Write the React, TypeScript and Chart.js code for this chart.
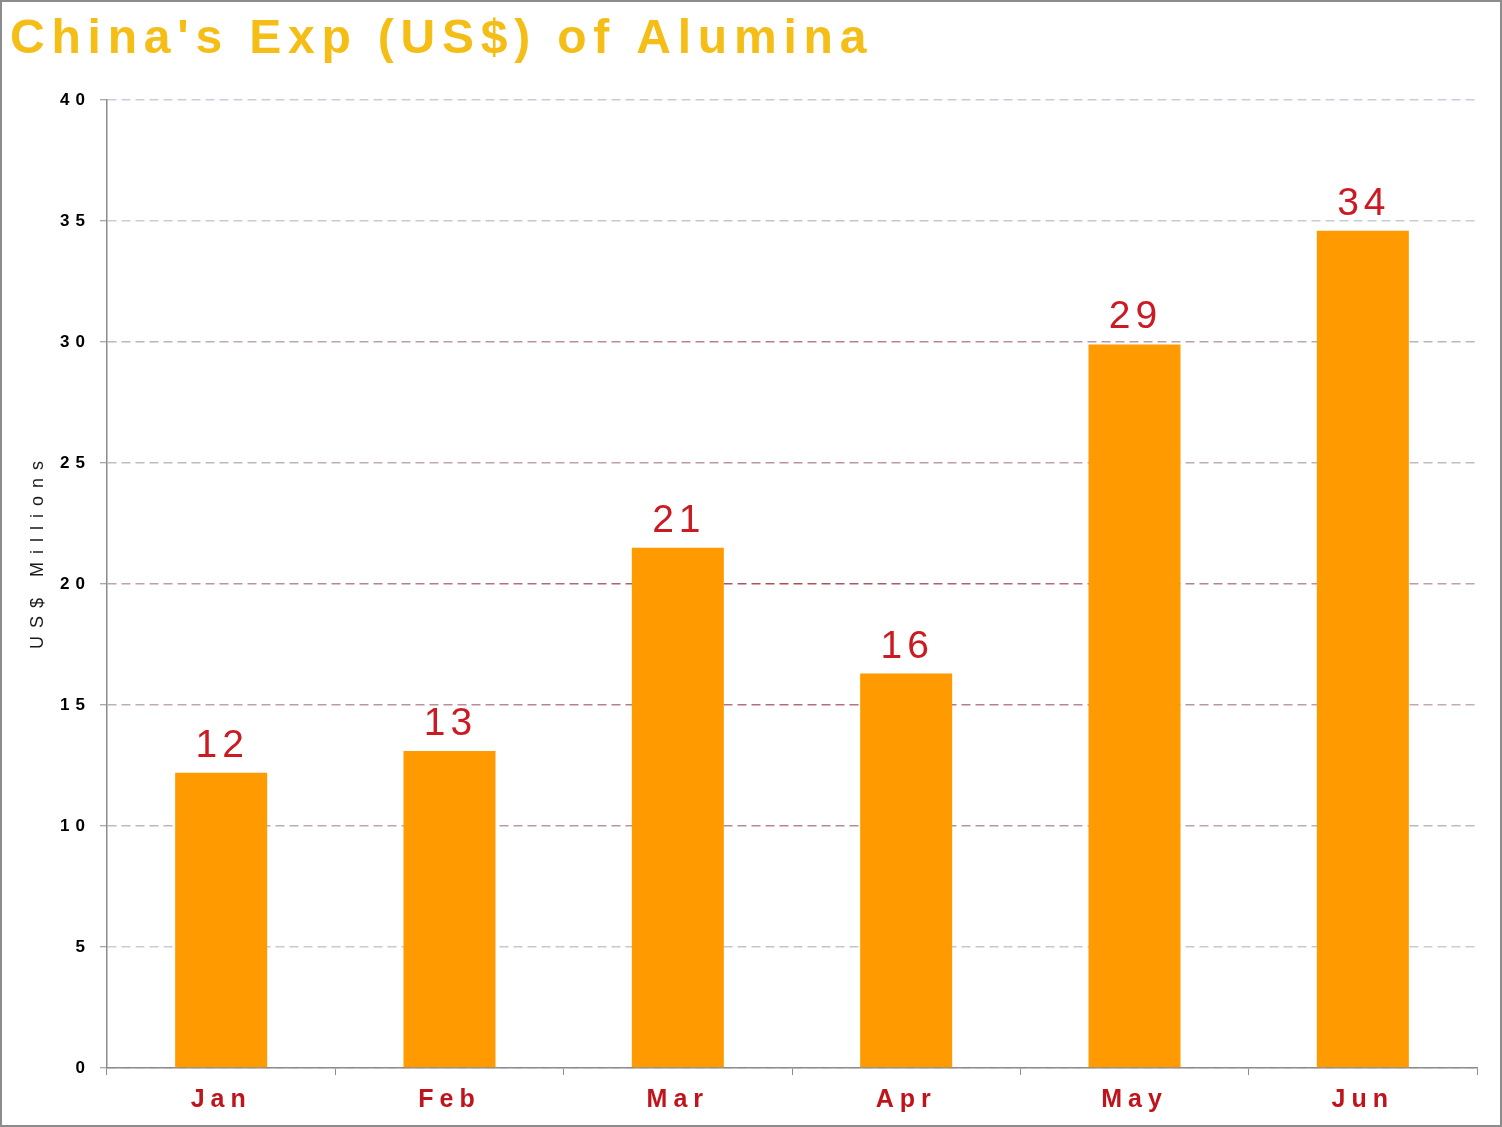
import React, { useEffect, useRef } from 'react';
import { Chart, registerables } from 'chart.js';

Chart.register(...registerables);

// ---- data ----
const chartTitle = "China's Exp (US$) of Alumina";
const yAxisTitle = 'US$ Millions';
const months = ['Jan', 'Feb', 'Mar', 'Apr', 'May', 'Jun'];
const exportValues = [12.2, 13.1, 21.5, 16.3, 29.9, 34.6];
const yMin = 0;
const yMax = 40;
const yStep = 5;

// ---- styles ----
const FONT = "'Liberation Sans', Arial, Helvetica, sans-serif";
const CANVAS_W = 1498;
const CANVAS_H = 1123;
const gridTint: Record<number, number> = { 40: 0.05, 35: 0.1, 30: 0.55, 25: 0.4, 20: 0.85, 15: 0.65, 10: 0.5, 5: 0.1, 0: 0 };

function mix(a: number[], b: number[], t: number) {
  const c = a.map((v, i) => Math.round(v + (b[i] - v) * t));
  return `rgb(${c[0]},${c[1]},${c[2]})`;
}

function patchLabels(scale: any, spacing: string) {
  if (!scale || scale.__lsPatched) return;
  const orig = scale.drawLabels.bind(scale);
  scale.drawLabels = (area: any) => {
    const c = scale.ctx;
    c.save();
    (c as any).letterSpacing = spacing;
    orig(area);
    c.restore();
  };
  scale.__lsPatched = true;
}

const decorPlugin = {
  id: 'decor',
  afterUpdate(chart: any) {
    patchLabels(chart.scales.y, '6px');
    patchLabels(chart.scales.x, '6px');
  },
  afterDatasetsDraw(chart: any) {
    const ctx = chart.ctx;
    const meta = chart.getDatasetMeta(0);
    ctx.save();
    ctx.font = `normal 39px ${FONT}`;
    ctx.fillStyle = '#cc1a22';
    ctx.textAlign = 'center';
    ctx.textBaseline = 'alphabetic';
    ctx.letterSpacing = '5px';
    meta.data.forEach((bar: any, i: number) => {
      const v = chart.data.datasets[0].data[i] as number;
      ctx.fillText(String(Math.floor(v)), bar.x + 1, bar.y - 16);
    });
    ctx.restore();
  },
  afterDraw(chart: any) {
    const ctx = chart.ctx;
    ctx.save();
    ctx.font = `bold 48px ${FONT}`;
    ctx.fillStyle = '#F5BE17';
    ctx.textAlign = 'left';
    ctx.textBaseline = 'alphabetic';
    ctx.letterSpacing = '6.8px';
    ctx.fillText(chartTitle, 8, 51);
    ctx.restore();

    ctx.save();
    ctx.translate(36, 553);
    ctx.rotate(-Math.PI / 2);
    ctx.font = `normal 18px ${FONT}`;
    ctx.fillStyle = '#1a1a1a';
    ctx.textAlign = 'center';
    ctx.textBaseline = 'middle';
    ctx.letterSpacing = '8px';
    ctx.fillText(yAxisTitle, 4, 0);
    ctx.restore();
  },
};

export default function App() {
  const ref = useRef<HTMLCanvasElement | null>(null);

  useEffect(() => {
    if (!ref.current) return;
    const base = [200, 210, 225];
    const red = [165, 55, 65];
    const chart = new Chart(ref.current, {
      type: 'bar',
      data: {
        labels: months,
        datasets: [
          {
            data: exportValues,
            backgroundColor: '#FF9A00',
            borderWidth: 0,
            categoryPercentage: 1,
            barPercentage: 0.403,
          },
        ],
      },
      options: {
        animation: false,
        responsive: false,
        devicePixelRatio: 1,
        layout: { padding: { left: 0, top: 98, right: 23, bottom: 0 } },
        plugins: {
          legend: { display: false },
          title: { display: false },
          tooltip: { enabled: false },
        },
        scales: {
          x: {
            offset: true,
            afterFit: (s: any) => { s.height = 57; },
            grid: {
              display: true,
              drawOnChartArea: false,
              offset: true,
              tickLength: 7,
              color: '#8c8c8c',
              tickColor: '#8c8c8c',
            },
            border: { display: true, color: '#8c8c8c', width: 1.5 },
            ticks: {
              color: '#c0141c',
              font: { family: FONT, size: 25, weight: 'bold' },
              padding: 10,
              maxRotation: 0,
              autoSkip: false,
            },
          },
          y: {
            min: yMin,
            max: yMax,
            afterFit: (s: any) => { s.width = 105; },
            grid: {
              display: true,
              drawOnChartArea: true,
              tickLength: 7,
              lineWidth: 1.5,
              tickColor: '#8c8c8c',
              tickWidth: 1,
              color: (c: any) => {
                const area = c.chart.chartArea;
                const t = gridTint[c.tick?.value] ?? 0;
                if (!area) return mix(base, red, t);
                const g = c.chart.ctx.createLinearGradient(area.left, 0, area.right, 0);
                g.addColorStop(0, mix(base, red, t * 0.35));
                g.addColorStop(0.5, mix(base, red, t));
                g.addColorStop(1, mix(base, red, t * 0.35));
                return g;
              },
            },
            border: { display: true, color: '#8c8c8c', width: 1.5, dash: [9, 5] },
            ticks: {
              stepSize: yStep,
              color: '#000000',
              font: { family: FONT, size: 17, weight: 'bold' },
              padding: 9,
            },
          },
        },
      },
      plugins: [decorPlugin],
    } as any);
    return () => chart.destroy();
  }, []);

  return (
    <div
      style={{
        position: 'absolute',
        left: 0,
        top: 0,
        width: 1502,
        height: 1127,
        border: '2px solid #8c8c8c',
        boxSizing: 'border-box',
        background: '#ffffff',
      }}
    >
      <canvas ref={ref} width={CANVAS_W} height={CANVAS_H} style={{ display: 'block', width: CANVAS_W, height: CANVAS_H }} />
    </div>
  );
}
